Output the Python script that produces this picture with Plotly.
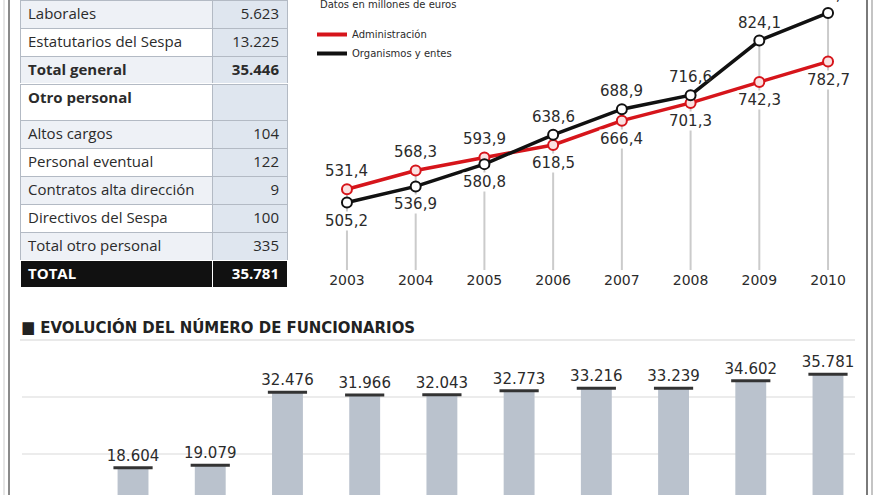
import plotly.graph_objects as go

# ---------------- data ----------------
table_labels = ["Laborales", "Estatutarios del Sespa", "Total general", "Otro personal",
                "Altos cargos", "Personal eventual", "Contratos alta dirección",
                "Directivos del Sespa", "Total otro personal", "TOTAL"]
table_values = ["5.623", "13.225", "35.446", "", "104", "122", "9", "100", "335", "35.781"]
bold_rows = ["Total general", "Otro personal", "TOTAL"]

years = ["2003", "2004", "2005", "2006", "2007", "2008", "2009", "2010"]
admin = [531.4, 568.3, 593.9, 618.5, 666.4, 701.3, 742.3, 782.7]
organismos = [505.2, 536.9, 580.8, 638.6, 688.9, 716.6, 824.1, 878.4]

bar_cats = ["2001", "2002", "2003", "2004", "2005", "2006", "2007", "2008", "2009", "2010"]
funcionarios = [18604, 19079, 32476, 31966, 32043, 32773, 33216, 33239, 34602, 35781]

W, H = 880, 495
RED = "#d6151b"
BLK = "#111111"
TXT = "#2b2b2b"


def px(x):
    return x / W


def py(y):
    return 1 - y / H


def fmt_dec(v):
    return f"{v:.1f}".replace(".", ",")


def fmt_int(v):
    return f"{v:,}".replace(",", ".")


fig = go.Figure()

# ---------------- table ----------------
LIGHT = "#eef1f6"
BLUE = "#dfe6ef"
TFONT = "Open Sans, sans-serif"
TSIZE = 15


def row_style(i):
    lab = table_labels[i]
    val = table_values[i]
    if lab == "TOTAL":
        return lab, val, "#111111", "#111111", "#ffffff", "#ffffff"
    return lab, val, (LIGHT if i % 2 == 0 else "#ffffff"), BLUE, TXT, "#b3bac4"


def add_table(rows, y0, head_h, cell_h):
    st = [row_style(i) for i in rows]
    h, body = st[0], st[1:]
    y1 = y0 + head_h + cell_h * len(body)
    w = "bold" if table_labels[rows[0]] in bold_rows else "normal"
    fig.add_trace(go.Table(
        domain=dict(x=[px(20), px(287)], y=[py(y1), py(y0)]),
        columnwidth=[192, 75],
        header=dict(values=[h[0], h[1]], align=["left", "right"], height=head_h,
                    fill=dict(color=[h[2], h[3]]),
                    line=dict(color=[h[5], h[5]], width=1),
                    font=dict(family=TFONT, size=TSIZE, color=[h[4], h[4]], weight=w)),
        cells=dict(values=[[s[0] for s in body], [s[1] for s in body]],
                   align=["left", "right"], height=cell_h,
                   fill=dict(color=[[s[2] for s in body], [s[3] for s in body]]),
                   line=dict(color=[[s[5] for s in body], [s[5] for s in body]], width=1),
                   font=dict(family=TFONT, size=TSIZE,
                             color=[[s[4] for s in body], [s[4] for s in body]], weight=w)),
    ))
    return y1


y = 0
y = add_table([0, 1], y, 28, 28)
y = add_table([2], y, 28, 28)
y = add_table([3], y, 36, 28)
y = add_table([4, 5, 6, 7, 8], y, 28, 28)
y = add_table([9], y, 28, 28)

# ---------------- line chart ----------------
xi = list(range(len(years)))
Y_RANGE = [372.4, 903.9]
vx, vy = [], []
for i, a, o in zip(xi, admin, organismos):
    vx += [i, i, None]
    vy += [max(a, o), Y_RANGE[0], None]
fig.add_trace(go.Scatter(x=vx, y=vy, mode="lines", line=dict(color="#cbcbcb", width=2),
                         showlegend=False, hoverinfo="skip", xaxis="x", yaxis="y"))

fig.add_trace(go.Scatter(x=xi, y=admin, mode="lines+markers", name="Administración",
                         line=dict(color=RED, width=3.5),
                         marker=dict(size=10, color="#fbe1e1", line=dict(color=RED, width=2)),
                         showlegend=False, xaxis="x", yaxis="y"))
fig.add_trace(go.Scatter(x=xi, y=organismos, mode="lines+markers", name="Organismos y entes",
                         line=dict(color=BLK, width=3.5),
                         marker=dict(size=10, color="#ffffff", line=dict(color=BLK, width=2)),
                         showlegend=False, xaxis="x", yaxis="y"))
# legend-only entries
fig.add_trace(go.Scatter(x=[None], y=[None], mode="lines", name="Administración",
                         line=dict(color=RED, width=4), xaxis="x", yaxis="y"))
fig.add_trace(go.Scatter(x=[None], y=[None], mode="lines", name="Organismos y entes",
                         line=dict(color=BLK, width=4), xaxis="x", yaxis="y"))

annotations = []
for i, a, o in zip(xi, admin, organismos):
    hi, lo = (a, o) if a >= o else (o, a)
    annotations.append(dict(x=i, y=hi, xref="x", yref="y", text=fmt_dec(hi), showarrow=False,
                            yshift=18, font=dict(family="DejaVu Sans", size=15, color=TXT)))
    annotations.append(dict(x=i, y=lo, xref="x", yref="y", text=fmt_dec(lo), showarrow=False,
                            yshift=-18, bgcolor="#ffffff", borderpad=0,
                            font=dict(family="DejaVu Sans", size=15, color=TXT)))

annotations.append(dict(x=px(318), y=py(4), xref="paper", yref="paper", xanchor="left", yanchor="middle",
                        text="Datos en millones de euros", showarrow=False,
                        font=dict(family="DejaVu Sans", size=10, color=TXT)))

# ---------------- bar chart ----------------
fig.add_trace(go.Bar(x=bar_cats, y=funcionarios, width=0.4, marker=dict(color="#bac2cd", line=dict(width=0)),
                     text=[fmt_int(v) for v in funcionarios], textposition="outside",
                     textfont=dict(family="DejaVu Sans", size=15, color=TXT), cliponaxis=False,
                     constraintext="none", showlegend=False, xaxis="x2", yaxis="y2"))
fig.add_trace(go.Scatter(x=bar_cats, y=funcionarios, mode="markers",
                         marker=dict(symbol="line-ew", size=28, line=dict(width=3, color="#333333")),
                         showlegend=False, hoverinfo="skip", xaxis="x2", yaxis="y2", cliponaxis=False))

annotations.append(dict(x=px(19), y=py(327), xref="paper", yref="paper", xanchor="left", yanchor="middle",
                        text="<b>■ EVOLUCIÓN DEL NÚMERO DE FUNCIONARIOS</b>", showarrow=False,
                        font=dict(family="DejaVu Sans Condensed, Roboto, sans-serif", size=16.6, color="#222")))

shapes = [
    dict(type="line", xref="paper", yref="paper", x0=px(4), x1=px(4), y0=0, y1=1, line=dict(color="#cccccc", width=1)),
    dict(type="line", xref="paper", yref="paper", x0=px(9), x1=px(9), y0=0, y1=1, line=dict(color="#8a8a8a", width=2)),
    dict(type="line", xref="paper", yref="paper", x0=px(867), x1=px(867), y0=0, y1=1, line=dict(color="#7a7a7a", width=2)),
    dict(type="line", xref="paper", yref="paper", x0=px(872), x1=px(872), y0=0, y1=1, line=dict(color="#b0b0b0", width=1.5)),
    dict(type="line", xref="paper", yref="paper", x0=px(20), x1=px(855), y0=py(340), y1=py(340), line=dict(color="#e2e2e2", width=1.5)),
    dict(type="line", xref="paper", yref="paper", x0=px(22), x1=px(855), y0=py(397), y1=py(397), line=dict(color="#ececec", width=2), layer="below"),
    dict(type="line", xref="paper", yref="paper", x0=px(22), x1=px(855), y0=py(454), y1=py(454), line=dict(color="#ececec", width=2), layer="below"),
]

fig.update_layout(
    width=W, height=H, autosize=False,
    margin=dict(l=0, r=0, t=0, b=0),
    paper_bgcolor="#ffffff", plot_bgcolor="rgba(0,0,0,0)",
    annotations=annotations, shapes=shapes,
    showlegend=True,
    legend=dict(x=px(312), y=py(20), xanchor="left", yanchor="top",
                font=dict(family="DejaVu Sans", size=10, color=TXT), bgcolor="rgba(0,0,0,0)",
                itemwidth=30, tracegroupgap=0),
    xaxis=dict(domain=[px(312.6), px(862.4)], range=[-0.5, 7.5], showgrid=False,
               zeroline=False, showline=False, ticks="", tickvals=xi, ticktext=years,
               tickfont=dict(family="DejaVu Sans", size=14, color=TXT),
               anchor="y", fixedrange=True),
    yaxis=dict(domain=[py(270), 1], range=Y_RANGE, visible=False, anchor="x", fixedrange=True),
    xaxis2=dict(domain=[px(17.2), px(866.6)], type="category", range=[-1.5, 9.5], visible=False, anchor="y2"),
    yaxis2=dict(domain=[0, py(340)], range=[13592, 42100], visible=False, anchor="x2"),
    barmode="overlay",
)

fig.write_html("out.html")
